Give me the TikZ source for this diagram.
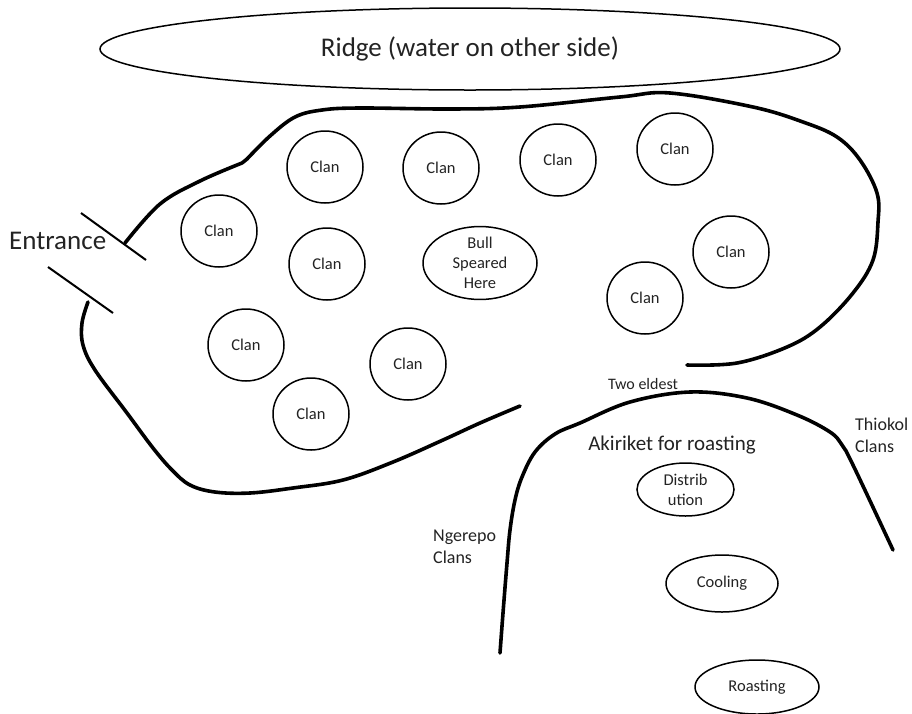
\documentclass[tikz,border=0pt]{standalone}
\usepackage{fontspec}
\setmainfont{Carlito}
\usetikzlibrary{shapes.geometric}
\definecolor{ink}{RGB}{35,35,35}
\begin{document}
\begin{tikzpicture}[x=1pt,y=-1pt,
  oval/.style={ellipse,draw=black,line width=1.5pt,inner sep=0pt,text=ink,
    align=center,font=\fontsize{16.5}{20}\selectfont},
  clan/.style={oval,minimum width=76pt,minimum height=72pt},
  boundary/.style={line width=3.6pt,line cap=round,line join=round},
  gateline/.style={line width=2pt},
  label/.style={text=ink,inner sep=0pt}
]
\useasboundingbox (0,0) rectangle (912,713);

% ridge along the top
\node[oval,minimum width=740pt,minimum height=82pt,font=\fontsize{27}{30}\selectfont]
  (ridge) at (470,49) {Ridge (water on other side)};

% enclosure: upper wall from the entrance round to the right, with its small kink
\draw[boundary] plot[smooth,tension=0.6] coordinates
  {(125,243) (160,204) (200,181) (242,163)}
  -- plot[smooth,tension=0.6] coordinates
  {(247,159) (270,136) (295,117) (322,110) (360,108) (450,109) (520,107)
   (620,97) (670,93) (753,107) (803,122) (837,137) (860,160) (877,193)
   (878,222) (873,260) (853,293) (820,327) (787,347) (737,363) (687,365)};
% enclosure: lower wall
\draw[boundary] plot[smooth,tension=0.6] coordinates
  {(88,302) (82,323) (83,345) (95,370) (127,413) (153,448) (172,470)
   (190,485) (215,492) (250,493) (293,488) (343,480) (393,462) (443,440)
   (480,423) (520,406)};

% entrance gate posts
\draw[gateline] (81,213) -- (146,260);
\draw[gateline] (48,267) -- (113,313);
\node[label,anchor=base west,font=\fontsize{27}{30}\selectfont]
  (entrance) at (9,249) {Entrance};

% clans inside the enclosure
\node[clan] (c1)  at (325,167) {Clan};
\node[clan] (c2)  at (441,168) {Clan};
\node[clan] (c3)  at (558,160) {Clan};
\node[clan] (c4)  at (675,149) {Clan};
\node[clan] (c5)  at (219,231) {Clan};
\node[clan] (c6)  at (327,264) {Clan};
\node[clan] (c7)  at (731,252) {Clan};
\node[clan] (c8)  at (645,298) {Clan};
\node[clan] (c9)  at (246,345) {Clan};
\node[clan] (c10) at (408,364) {Clan};
\node[clan] (c11) at (311,414) {Clan};
\node[oval,minimum width=114pt,minimum height=66pt] (bull) at (480,263)
  {Bull\\Speared\\Here};

% akiriket arch
\draw[boundary] plot[smooth,tension=0.6] coordinates
  {(500,653) (503,613) (507,563) (510,530) (515,500) (522,477) (535,452)
   (555,434) (580,423) (630,402) (690,392) (747,398) (797,415) (830,432)
   (842,445) (853,465) (893,550)};

\node[label,anchor=base,font=\fontsize{16}{20}\selectfont] (eldest) at (643,389) {Two eldest};
\node[label,anchor=base,font=\fontsize{21}{24}\selectfont] (akiriket) at (672,450) {Akiriket for roasting};
\node[label,anchor=north west,align=left,font=\fontsize{18}{22}\selectfont]
  (thiokol) at (855,418) {Thiokol\\Clans};
\node[label,anchor=north west,align=left,font=\fontsize{18}{22}\selectfont]
  (ngerepo) at (433,530) {Ngerepo\\Clans};

\node[oval,minimum width=97pt,minimum height=53pt] (distrib) at (685.5,489.5) {Distrib\\ution};
\node[oval,minimum width=112pt,minimum height=57pt] (cooling) at (722,583.5) {Cooling};
\node[oval,minimum width=124pt,minimum height=54pt] (roasting) at (757,687) {Roasting};
\end{tikzpicture}
\end{document}
